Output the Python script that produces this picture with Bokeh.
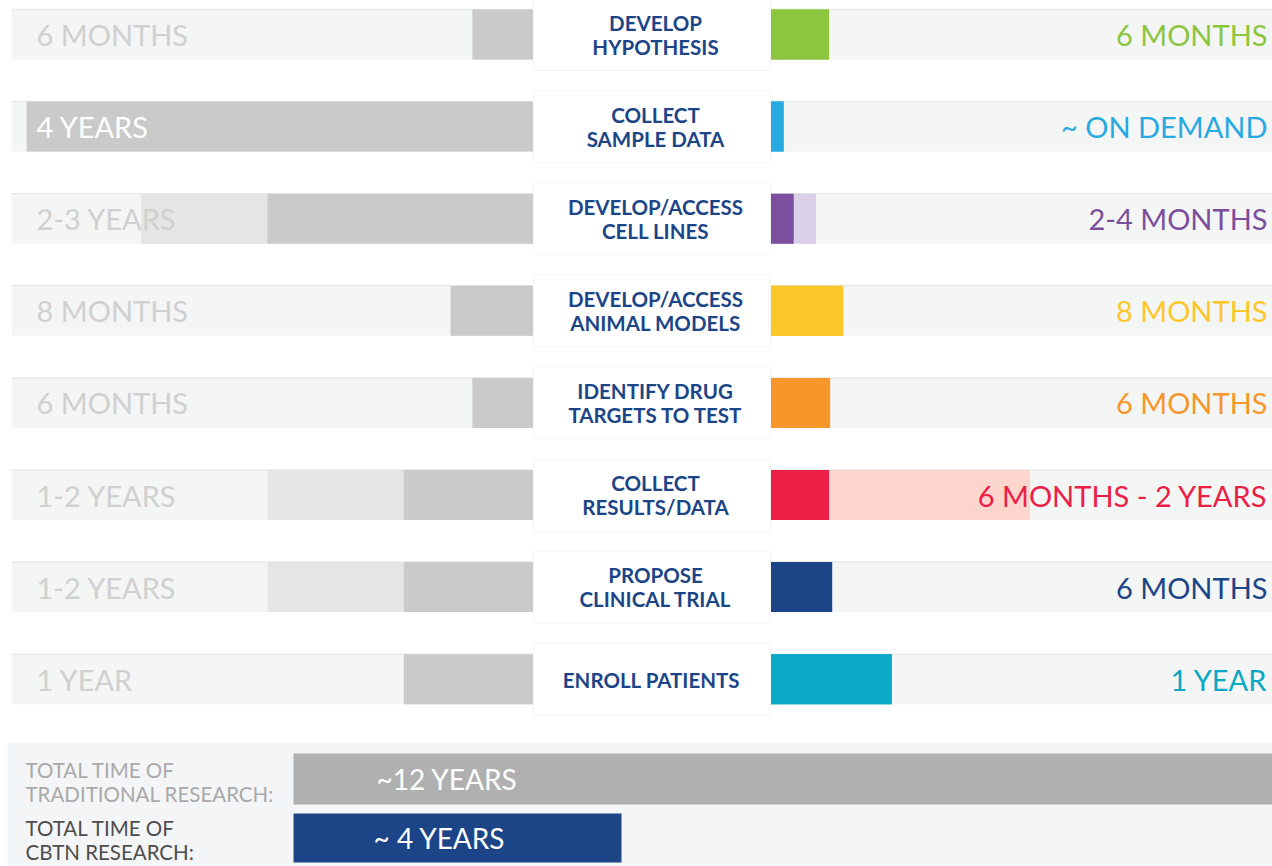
from bokeh.plotting import figure
from bokeh.models import Range1d
from bokeh.core.properties import value
from bokeh.embed import file_html
from bokeh.resources import INLINE

# ---------------- data ----------------
steps = [["DEVELOP", "HYPOTHESIS"], ["COLLECT", "SAMPLE DATA"], ["DEVELOP/ACCESS", "CELL LINES"],
         ["DEVELOP/ACCESS", "ANIMAL MODELS"], ["IDENTIFY DRUG", "TARGETS TO TEST"],
         ["COLLECT", "RESULTS/DATA"], ["PROPOSE", "CLINICAL TRIAL"], ["ENROLL PATIENTS"]]
# traditional research (months, drawn leftwards)
trad_min = [5.6, 46.5, 24.4, 7.6, 5.6, 11.9, 11.9, 11.9]
trad_max = [5.6, 46.5, 36.0, 7.6, 5.6, 24.4, 24.4, 11.9]
trad_labels = ["6 MONTHS", "4 YEARS", "2-3 YEARS", "8  MONTHS", "6 MONTHS", "1-2 YEARS", "1-2 YEARS", "1 YEAR"]
# CBTN research (months, drawn rightwards)
cbtn_min = [5.8, 1.3, 2.3, 7.2, 5.9, 5.8, 6.1, 12.0]
cbtn_max = [5.8, 1.3, 4.5, 7.2, 5.9, 25.7, 6.1, 12.0]
cbtn_labels = ["6 MONTHS", "~ ON DEMAND", "2-4 MONTHS", "8 MONTHS", "6 MONTHS", "6 MONTHS - 2 YEARS", "6 MONTHS", "1 YEAR"]
cbtn_colors = ["#8cc63f", "#27a9e1", "#7b4f9e", "#fcc72a", "#f7962a", "#ec2046", "#1b4587", "#0aa9c5"]
cbtn_light = ["#8cc63f", "#27a9e1", "#dcd0e8", "#fcc72a", "#f7962a", "#fcd6cd", "#1b4587", "#0aa9c5"]
# totals (years)
total_names = [["TOTAL TIME OF", "TRADITIONAL RESEARCH:"], ["TOTAL TIME OF", "CBTN RESEARCH:"]]
total_years = [12.1, 4.0]
total_labels = ["~12 YEARS", "~ 4 YEARS"]
total_colors = ["#b0b0b0", "#1b4587"]

# ---------------- layout ----------------
W, H = 1272, 866
LEFT_BASE, RIGHT_BASE = 533, 770
KL, KR = 10.9, 10.1          # px per month
TOT_BASE, KT = 293, 82       # px per year
ROW0, ROWSTEP, BARH = 34, 92.1, 50
FONT = "Lato"

p = figure(width=W, height=H, output_backend="svg", toolbar_location=None,
           x_range=Range1d(LEFT_BASE / KL, (LEFT_BASE - W) / KL),
           y_range=Range1d(H, 0), min_border=0)
p.extra_x_ranges = {
    "right": Range1d(-RIGHT_BASE / KR, (W - RIGHT_BASE) / KR),
    "total": Range1d(-TOT_BASE / KT, (W - TOT_BASE) / KT),
    "px": Range1d(0, W),
}
p.axis.visible = False
p.grid.visible = False
p.outline_line_color = None
p.background_fill_color = "white"
p.border_fill_color = "white"

rows_y = [ROW0 + ROWSTEP * i for i in range(len(steps))]
n = len(steps)
tops = [y - BARH / 2 for y in rows_y]
bots = [y + BARH / 2 for y in rows_y]

# tracks
p.quad(left=[11] * n, right=[LEFT_BASE] * n, top=tops, bottom=bots, x_range_name="px",
       fill_color="#f4f5f5", line_color=None)
p.quad(left=[RIGHT_BASE] * n, right=[W] * n, top=tops, bottom=bots, x_range_name="px",
       fill_color="#f4f5f5", line_color=None)
p.segment(x0=[11] * n, x1=[LEFT_BASE] * n, y0=tops, y1=tops,
          x_range_name="px", line_color="#e8e9e9", line_width=1.5)
p.segment(x0=[RIGHT_BASE] * n, x1=[W] * n, y0=tops, y1=tops,
          x_range_name="px", line_color="#e8e9e9", line_width=1.5)

# traditional bars
p.quad(left=trad_max, right=[0] * n, top=tops, bottom=bots, fill_color="#e4e5e5", line_color=None)
p.quad(left=trad_min, right=[0] * n, top=tops, bottom=bots, fill_color="#cacaca", line_color=None)

# cbtn bars
p.quad(left=[0] * n, right=cbtn_max, top=tops, bottom=bots, x_range_name="right",
       fill_color=cbtn_light, line_color=None)
p.quad(left=[0] * n, right=cbtn_min, top=tops, bottom=bots, x_range_name="right",
       fill_color=cbtn_colors, line_color=None)

# center label boxes
p.quad(left=[LEFT_BASE] * n, right=[RIGHT_BASE] * n, top=[y - 36 for y in rows_y],
       bottom=[y + 36 for y in rows_y], x_range_name="px",
       fill_color="white", line_color="#f5f5f5", line_width=1)

# center labels
cx, cy, ct = [], [], []
for y, lines in zip(rows_y, steps):
    if len(lines) == 1:
        cx.append(651); cy.append(y + 1); ct.append(lines[0])
    else:
        cx += [655, 655]; cy += [y - 12, y + 12]; ct += lines
p.text(x=cx, y=cy, text=ct, x_range_name="px", text_align="center", text_baseline="middle",
       text_font=value(FONT), text_font_style="bold", text_font_size="20.5px", text_color="#1b4587")

# left value labels
p.text(x=[36] * n, y=[y for y in rows_y], text=trad_labels, x_range_name="px",
       text_align="left", text_baseline="middle", text_font=value(FONT), text_font_size="29px",
       text_color=["#d0d0d0", "#ffffff"] + ["#d0d0d0"] * (n - 2))

# right value labels
p.text(x=[1267] * n, y=[y for y in rows_y], text=cbtn_labels, x_range_name="px",
       text_align="right", text_baseline="middle", text_font=value(FONT), text_font_size="29px",
       text_color=cbtn_colors)

# totals section
p.quad(left=[7], right=[W], top=[742], bottom=[H], x_range_name="px", fill_color="#f4f5f7", line_color=None)
tot_y = [778.5, 837.5]
tot_h = [51, 49]
p.quad(left=[0, 0], right=total_years, top=[y - h / 2 for y, h in zip(tot_y, tot_h)],
       bottom=[y + h / 2 for y, h in zip(tot_y, tot_h)], x_range_name="total",
       fill_color=total_colors, line_color=None)
p.text(x=[376, 373], y=[y for y in tot_y], text=total_labels, x_range_name="px",
       text_align="left", text_baseline="middle", text_font=value(FONT), text_font_size="28px",
       text_color="white")
p.text(x=[25, 25, 25, 25], y=[769, 793, 827, 851],
       text=total_names[0] + total_names[1], x_range_name="px",
       text_align="left", text_baseline="middle", text_font=value(FONT), text_font_size="20.5px",
       text_color=["#a9a9a9", "#a9a9a9", "#4d4d4d", "#4d4d4d"])

open("out.html", "w").write(file_html(p, INLINE))
